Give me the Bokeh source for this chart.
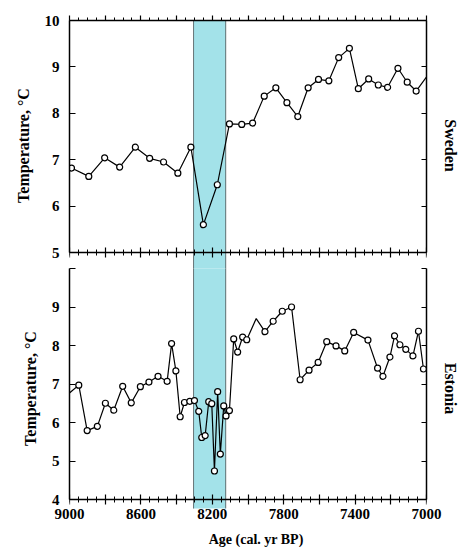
from bokeh.plotting import figure
from bokeh.models import LinearAxis, FixedTicker, BoxAnnotation, Range1d
from bokeh.layouts import column
from bokeh.core.properties import value
from bokeh.embed import file_html
from bokeh.resources import INLINE

# ---------------- data ----------------
sweden_age = [8989, 8892, 8803, 8719, 8631, 8551, 8473, 8393, 8320, 8250, 8172,
              8104, 8035, 7974, 7909, 7844, 7782, 7721, 7663, 7605, 7547, 7492,
              7432, 7382, 7324, 7270, 7218, 7160, 7108, 7058, 6970]
sweden_temp = [6.82, 6.64, 7.04, 6.84, 7.27, 7.03, 6.95, 6.71, 7.27, 5.60, 6.46,
               7.77, 7.76, 7.79, 8.37, 8.55, 8.23, 7.93, 8.55, 8.73, 8.70, 9.20,
               9.40, 8.53, 8.74, 8.61, 8.56, 8.97, 8.67, 8.48, 8.94]

estonia_age = [9030, 8948, 8901, 8844, 8799, 8752, 8702, 8654, 8603, 8555, 8504,
               8453, 8428, 8404, 8380, 8356, 8326, 8300, 8276, 8259, 8240, 8220,
               8203, 8188, 8170, 8155, 8136, 8123, 8104, 8080, 8058, 8030, 8007,
               7954, 7905, 7859, 7808, 7756, 7708, 7658, 7607, 7559, 7507, 7458,
               7408, 7328, 7274, 7244, 7205, 7179, 7149, 7116, 7076, 7045, 7017]
estonia_temp = [6.65, 6.97, 5.79, 5.90, 6.50, 6.32, 6.94, 6.51, 6.93, 7.05, 7.20,
                7.07, 8.05, 7.34, 6.15, 6.52, 6.55, 6.57, 6.29, 5.61, 5.66, 6.54,
                6.49, 4.74, 6.80, 5.18, 6.43, 6.17, 6.31, 8.17, 7.83, 8.22, 8.15,
                8.70, 8.36, 8.63, 8.89, 9.00, 7.11, 7.36, 7.56, 8.10, 7.99, 7.86,
                8.34, 8.14, 7.41, 7.20, 7.70, 8.25, 8.02, 7.90, 7.73, 8.37, 7.39]
estonia_unmarked_ages = [7954]

event_start = 8305
event_end = 8125

x_major = list(range(7000, 9001, 200))
x_minor = list(range(7000, 9001, 50))
x_labelled = [9000, 8600, 8200, 7800, 7400, 7000]
sweden_ticks = [5, 6, 7, 8, 9, 10]
estonia_ticks = [4, 5, 6, 7, 8, 9, 10]
estonia_unlabelled = [10]
x_title = "Age (cal. yr BP)"

FONT = "Liberation Serif"
BAND = "#a3e2e9"
AXIS_W = 1.5
W = 461
OVERLAP = 2


def style_axis(ax):
    ax.axis_line_width = AXIS_W
    ax.axis_line_color = "black"
    ax.major_tick_line_color = "black"
    ax.minor_tick_line_color = "black"
    ax.major_tick_line_width = 1.2
    ax.minor_tick_line_width = 1.0
    ax.major_label_text_font = FONT
    ax.major_label_text_font_style = "bold"
    ax.major_label_text_font_size = "15px"
    ax.major_label_text_color = "black"
    ax.axis_label_text_font = FONT
    ax.axis_label_text_font_style = "bold"
    ax.axis_label_text_font_size = "16px"
    ax.axis_label_text_color = "black"


def hide_labels(ax):
    ax.major_label_text_color = None
    ax.major_label_text_font_size = "1px"
    ax.major_label_standoff = 0


def x_ticks_axis(tin, tout, mtin, mtout, fixed=None):
    ax = LinearAxis(ticker=FixedTicker(ticks=x_major, minor_ticks=x_minor))
    style_axis(ax)
    ax.major_tick_in, ax.major_tick_out = tin, tout
    ax.minor_tick_in, ax.minor_tick_out = mtin, mtout
    if fixed is not None:
        ax.fixed_location = fixed
    hide_labels(ax)
    return ax


def x_label_axis():
    ax = LinearAxis(ticker=FixedTicker(ticks=x_labelled))
    style_axis(ax)
    ax.axis_line_color = None
    ax.major_tick_in, ax.major_tick_out = 0, 0
    ax.minor_tick_in, ax.minor_tick_out = 0, 0
    ax.major_label_standoff = 0
    return ax


def y_axes(p, ticks, left_label, right_label, unlabelled=()):
    bounds = (min(ticks), max(ticks))
    left = LinearAxis(ticker=FixedTicker(ticks=ticks), axis_label=left_label, bounds=bounds)
    style_axis(left)
    left.major_tick_in, left.major_tick_out = 6, 0
    left.minor_tick_in, left.minor_tick_out = 0, 0
    left.major_label_standoff = 10
    left.axis_label_standoff = 10
    if unlabelled:
        left.major_label_overrides = {t: "" for t in unlabelled}
    p.add_layout(left, "left")

    right = LinearAxis(ticker=FixedTicker(ticks=ticks), axis_label=right_label, bounds=bounds)
    style_axis(right)
    right.major_tick_in, right.major_tick_out = 5, 0
    right.minor_tick_in, right.minor_tick_out = 0, 0
    hide_labels(right)
    right.axis_label_standoff = 15
    p.add_layout(right, "right")


def band(p, bottom, top):
    p.add_layout(BoxAnnotation(left=event_start, right=event_end, bottom=bottom, top=top,
                               fill_color=BAND, fill_alpha=1.0, line_color=None,
                               level="underlay"))
    for edge in (event_start, event_end):
        p.add_layout(BoxAnnotation(left=edge, right=edge, bottom=bottom, top=top,
                                   fill_alpha=0.0, line_color="black", line_width=1,
                                   level="underlay"))


def series(p, xs, ys, skip=()):
    p.line(xs, ys, line_color="black", line_width=1.2)
    mx = [x for x in xs if x not in skip]
    my = [y for x, y in zip(xs, ys) if x not in skip]
    p.scatter(mx, my, marker="circle", size=6, fill_color="white",
              line_color="black", line_width=1.2)


def base_fig(height, y_lo, y_hi, top, bottom):
    p = figure(width=W, height=height, x_range=Range1d(9000, 7000),
               y_range=Range1d(y_lo, y_hi), output_backend="svg", toolbar_location=None,
               x_axis_location=None, y_axis_location=None,
               min_border_left=69, min_border_right=34,
               min_border_top=top, min_border_bottom=bottom)
    p.outline_line_color = None
    p.background_fill_color = "white"
    p.border_fill_color = "white"
    p.xgrid.visible = False
    p.ygrid.visible = False
    return p


# ---------------- top panel: Sweden (frame runs down into the gap) ----------------
p1 = base_fig(268 + OVERLAP, 5 - (16 + OVERLAP) / 46.4, 10, 20, 0)
band(p1, 3.0, 11.0)
series(p1, sweden_age, sweden_temp)
p1.add_layout(x_ticks_axis(0, 5, 0, 3), "above")
p1.add_layout(x_ticks_axis(5, 5, 3, 3, fixed=5), "above")
y_axes(p1, sweden_ticks, "Temperature, °C", "Sweden")

# ---------------- bottom panel: Estonia ----------------
p2 = base_fig(263, 4 - 9 / 38.5, 10, 0, 23)
p2.margin = (-OVERLAP, 0, 0, 0)
band(p2, 3.0, 11.0)
series(p2, estonia_age, estonia_temp, skip=estonia_unmarked_ages)
p2.add_layout(x_label_axis(), "below")
p2.add_layout(x_ticks_axis(5, 5, 3, 3, fixed=4), "below")
y_axes(p2, estonia_ticks, "Temperature, °C", "Estonia", unlabelled=estonia_unlabelled)

# ---------------- x-axis title strip ----------------
p3 = figure(width=W, height=16, x_range=Range1d(0, W), y_range=Range1d(0, 16),
            output_backend="svg", toolbar_location=None,
            x_axis_location=None, y_axis_location=None, min_border=0)
p3.outline_line_color = None
p3.xgrid.visible = False
p3.ygrid.visible = False
p3.text(x=[241], y=[8], text=[x_title], text_align="center",
        text_baseline="middle", text_font=value(FONT), text_font_style="bold",
        text_font_size="14px", text_color="black")

layout = column(p1, p2, p3, spacing=0)
open("out.html", "w").write(file_html(layout, INLINE))
